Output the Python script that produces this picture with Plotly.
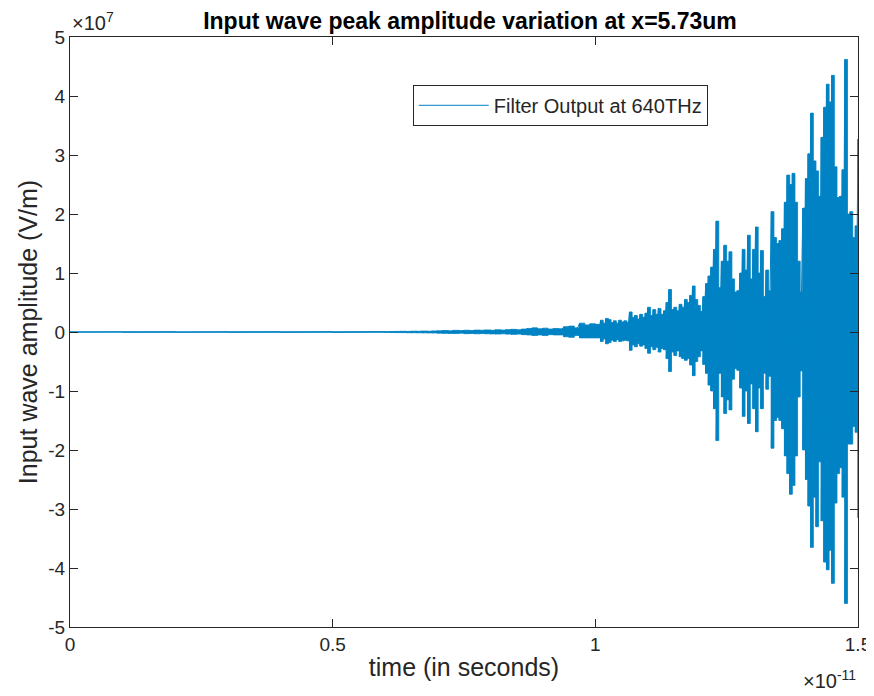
import plotly.graph_objects as go

# time in units of 1e-11 s, amplitude in units of 1e7 V/m
time_e11 = [0.00, 0.10, 0.20, 0.30, 0.40, 0.50, 0.60,
            0.61, 0.62, 0.63, 0.64, 0.65, 0.66, 0.67, 0.68, 0.69, 0.70,
            0.71, 0.72, 0.73, 0.74, 0.75, 0.76, 0.77, 0.78, 0.79, 0.80,
            0.81, 0.82, 0.83, 0.84, 0.85, 0.86, 0.87, 0.88, 0.89, 0.90,
            0.91, 0.92, 0.93, 0.94, 0.95, 0.96, 0.97, 0.98, 0.99, 1.00,
            1.005, 1.010, 1.015, 1.020, 1.025, 1.030, 1.035, 1.040, 1.045, 1.050,
            1.055, 1.060, 1.065, 1.070, 1.075, 1.080, 1.085, 1.090, 1.095, 1.100,
            1.105, 1.110, 1.115, 1.120, 1.125, 1.130, 1.135, 1.140, 1.145, 1.150,
            1.155, 1.160, 1.165, 1.170, 1.175, 1.180, 1.185, 1.190, 1.195, 1.200,
            1.205, 1.210, 1.215, 1.220, 1.225, 1.230, 1.235, 1.240, 1.245, 1.250,
            1.255, 1.260, 1.265, 1.270, 1.275, 1.280, 1.285, 1.290, 1.295, 1.300,
            1.305, 1.310, 1.315, 1.320, 1.325, 1.330, 1.335, 1.340, 1.345, 1.350,
            1.355, 1.360, 1.365, 1.370, 1.375, 1.380, 1.385, 1.390, 1.395, 1.400,
            1.405, 1.410, 1.415, 1.420, 1.425, 1.430, 1.435, 1.440, 1.445, 1.450,
            1.455, 1.460, 1.465, 1.470, 1.475, 1.480, 1.485, 1.490, 1.495, 1.500]

upper_e7 = [0.002, 0.003, 0.002, 0.004, 0.003, 0.005, 0.006,
            0.008, 0.010, 0.012, 0.010, 0.014, 0.012, 0.016, 0.013, 0.018, 0.020,
            0.025, 0.020, 0.028, 0.024, 0.030, 0.026, 0.032, 0.030, 0.035, 0.030,
            0.038, 0.032, 0.040, 0.045, 0.038, 0.050, 0.060, 0.070, 0.055, 0.065,
            0.050, 0.060, 0.055, 0.090, 0.100, 0.070, 0.150, 0.120, 0.140, 0.130,
            0.13, 0.20, 0.15, 0.23, 0.21, 0.16, 0.19, 0.15, 0.20, 0.17,
            0.19, 0.16, 0.34, 0.25, 0.28, 0.22, 0.30, 0.25, 0.32, 0.42,
            0.28, 0.38, 0.30, 0.40, 0.30, 0.36, 0.50, 0.72, 0.38, 0.42,
            0.36, 0.47, 0.42, 0.55, 0.50, 0.62, 0.78, 0.55, 0.45, 0.35,
            0.60, 0.82, 0.95, 1.10, 1.40, 1.88, 0.75, 1.20, 1.47, 1.20,
            1.36, 0.90, 0.68, 0.70, 1.00, 1.40, 1.05, 1.64, 0.90, 1.40,
            1.78, 1.00, 1.38, 0.60, 1.05, 0.70, 2.04, 1.60, 1.50, 1.55,
            1.75, 2.20, 2.66, 2.50, 2.69, 2.20, 1.20, 0.68, 2.10, 2.60,
            3.02, 3.71, 2.90, 2.73, 2.30, 3.30, 3.81, 4.20, 3.90, 4.35,
            2.80, 2.28, 2.30, 2.75, 4.62, 2.00, 2.04, 1.60, 1.80, 3.27]

lower_e7 = [-0.002, -0.003, -0.003, -0.004, -0.004, -0.005, -0.006,
            -0.008, -0.010, -0.010, -0.012, -0.012, -0.013, -0.014, -0.015, -0.016, -0.020,
            -0.022, -0.024, -0.025, -0.020, -0.028, -0.025, -0.030, -0.026, -0.030, -0.032,
            -0.034, -0.030, -0.036, -0.040, -0.035, -0.045, -0.050, -0.060, -0.050, -0.060,
            -0.045, -0.050, -0.050, -0.080, -0.090, -0.060, -0.100, -0.100, -0.100, -0.100,
            -0.10, -0.16, -0.12, -0.20, -0.18, -0.14, -0.16, -0.13, -0.16, -0.15,
            -0.14, -0.15, -0.31, -0.22, -0.25, -0.20, -0.24, -0.22, -0.28, -0.36,
            -0.25, -0.30, -0.26, -0.34, -0.28, -0.30, -0.45, -0.67, -0.34, -0.40,
            -0.32, -0.42, -0.45, -0.48, -0.45, -0.56, -0.74, -0.50, -0.42, -0.32,
            -0.55, -0.70, -0.90, -1.00, -1.30, -1.84, -0.70, -1.10, -1.38, -1.15,
            -1.32, -0.80, -0.62, -0.65, -0.95, -1.43, -1.00, -1.55, -0.88, -1.30,
            -1.69, -0.95, -1.30, -0.70, -0.97, -0.75, -1.97, -1.50, -1.45, -1.50,
            -1.64, -2.10, -2.40, -2.75, -2.60, -2.10, -1.10, -0.66, -2.00, -2.50,
            -2.95, -3.65, -2.80, -3.30, -2.20, -3.20, -3.90, -4.03, -3.70, -4.26,
            -2.90, -2.40, -2.30, -2.80, -4.60, -1.90, -1.90, -1.60, -1.70, -3.15]

x_tick_vals = [0, 0.5, 1, 1.5]
x_tick_text = ["0", "0.5", "1", "1.5"]
y_tick_vals = [-5, -4, -3, -2, -1, 0, 1, 2, 3, 4, 5]
y_tick_text = ["-5", "-4", "-3", "-2", "-1", "0", "1", "2", "3", "4", "5"]

series_name = "Filter Output at 640THz"
title_text = "<b>Input wave peak amplitude variation at x=5.73um</b>"

COLOR = "#0083C4"
AX = "#262626"
FONT = "Liberation Sans, Arial, sans-serif"

# oscillating trace (alternating between the envelope samples)
zig_x, zig_y = [], []
for t, u, l in zip(time_e11, upper_e7, lower_e7):
    zig_x += [t, t]
    zig_y += [u, l]

fig = go.Figure()
# dense body: positive and negative envelopes filled to zero
fig.add_trace(go.Scatter(x=time_e11, y=upper_e7, mode="lines", fill="tozeroy",
                         line_shape="hv", fillcolor=COLOR,
                         line=dict(color=COLOR, width=0.8),
                         showlegend=False, hoverinfo="skip"))
fig.add_trace(go.Scatter(x=time_e11, y=lower_e7, mode="lines", fill="tozeroy",
                         line_shape="hv", fillcolor=COLOR,
                         line=dict(color=COLOR, width=0.8),
                         showlegend=False, hoverinfo="skip"))
fig.add_trace(go.Scatter(x=zig_x, y=zig_y, mode="lines",
                         line=dict(color=COLOR, width=1), name=series_name))

axis_common = dict(showline=True, linecolor=AX, linewidth=1, mirror="ticks",
                   ticks="inside", ticklen=8, tickwidth=1, tickcolor=AX,
                   showgrid=False, zeroline=False, automargin=False,
                   tickfont=dict(family=FONT, size=19, color=AX))

fig.update_xaxes(range=[0, 1.5], tickvals=x_tick_vals, ticktext=x_tick_text,
                 title=dict(text="time (in seconds)", standoff=4,
                            font=dict(family=FONT, size=25, color=AX)),
                 **axis_common)
fig.update_yaxes(range=[-5, 5], tickvals=y_tick_vals, ticktext=y_tick_text,
                 title=dict(text="Input wave amplitude (V/m)", standoff=3,
                            font=dict(family=FONT, size=25, color=AX)),
                 **axis_common)

# page body has an 8px margin, so the figure is sized to end at the window edge
fig.update_layout(
    width=866, height=688, autosize=False,
    margin=dict(l=62, r=16, t=29, b=69),
    paper_bgcolor="white", plot_bgcolor="white",
    title=dict(text=title_text, x=0.5335, xanchor="center", y=0.981, yanchor="middle",
               font=dict(family=FONT, size=23, color="black")),
    legend=dict(x=0.435, y=0.919, xanchor="left", yanchor="top",
                bgcolor="white", bordercolor=AX, borderwidth=1, itemwidth=70,
                font=dict(family=FONT, size=20, color=AX)),
    annotations=[
        dict(text="×10<sup>7</sup>", xref="paper", yref="paper", x=0.0, y=1.0,
             xanchor="left", yanchor="bottom", showarrow=False, yshift=1,
             font=dict(family=FONT, size=20, color=AX)),
        dict(text="×10<sup>-11</sup>", xref="paper", yref="paper", x=1.0, y=0.0,
             xanchor="right", yanchor="top", showarrow=False, yshift=-38,
             font=dict(family=FONT, size=20, color=AX)),
    ],
)

fig.write_html("out.html")
